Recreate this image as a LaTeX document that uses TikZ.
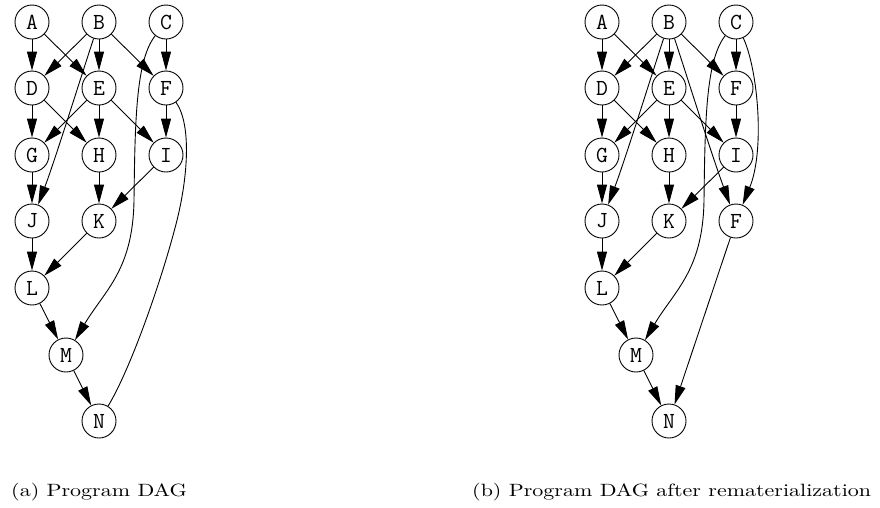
\documentclass[tikz,border=0pt]{standalone}
\usetikzlibrary{arrows.meta}
\begin{document}
\begin{tikzpicture}[x=1pt,y=-1pt,
  vtx/.style={circle,draw,line width=0.9pt,minimum size=34pt,inner sep=0pt,
    font=\fontsize{23}{23}\selectfont\ttfamily},
  arr/.style={line width=0.9pt,-{Triangle[length=19pt,width=10pt]}},
  lnk/.style={line width=0.9pt},
  captext/.style={anchor=base west,inner sep=0pt,font=\fontsize{10}{12}\selectfont}]
\useasboundingbox (0,0) rectangle (880,507);

% (a) program DAG
\begin{scope}
  \node[vtx] (A) at (32,22) {A};
  \node[vtx] (B) at (99,22) {B};
  \node[vtx] (C) at (166,22) {C};
  \node[vtx] (D) at (32,88) {D};
  \node[vtx] (E) at (99,88) {E};
  \node[vtx] (F) at (166,88) {F};
  \node[vtx] (G) at (32,155) {G};
  \node[vtx] (H) at (99,155) {H};
  \node[vtx] (I) at (166,155) {I};
  \node[vtx] (J) at (32,221) {J};
  \node[vtx] (K) at (99,221) {K};
  \node[vtx] (L) at (32,288) {L};
  \node[vtx] (M) at (66,355) {M};
  \node[vtx] (N) at (99,421) {N};

  \draw[arr] (A) -- (D);
  \draw[arr] (A) -- (E);
  \draw[arr] (B) -- (D);
  \draw[arr] (B) -- (E);
  \draw[arr] (B) -- (F);
  \draw[arr] (B) .. controls (80,80) and (55,160) .. (J);
  \draw[arr] (C) -- (F);
  \draw[arr] (C) .. controls (136,60) and (135,120) .. (134,200)
                 .. controls (133,270) and (105,290) .. (M);
  \draw[arr] (D) -- (G);
  \draw[arr] (D) -- (H);
  \draw[arr] (E) -- (G);
  \draw[arr] (E) -- (H);
  \draw[arr] (E) -- (I);
  \draw[arr] (F) -- (I);
  \draw[lnk] (F) .. controls (192,125) and (188,180) .. (175,228)
                 .. controls (160,285) and (130,370) .. (N);
  \draw[arr] (G) -- (J);
  \draw[arr] (H) -- (K);
  \draw[arr] (I) -- (K);
  \draw[arr] (J) -- (L);
  \draw[arr] (K) -- (L);
  \draw[arr] (L) -- (M);
  \draw[arr] (M) -- (N);
\end{scope}

% (b) program DAG after rematerialization
\begin{scope}[xshift=570pt]
  \node[vtx] (A2) at (32,22) {A};
  \node[vtx] (B2) at (99,22) {B};
  \node[vtx] (C2) at (166,22) {C};
  \node[vtx] (D2) at (32,88) {D};
  \node[vtx] (E2) at (99,88) {E};
  \node[vtx] (F2) at (166,88) {F};
  \node[vtx] (G2) at (32,155) {G};
  \node[vtx] (H2) at (99,155) {H};
  \node[vtx] (I2) at (166,155) {I};
  \node[vtx] (J2) at (32,221) {J};
  \node[vtx] (K2) at (99,221) {K};
  \node[vtx] (R2) at (166,221) {F};
  \node[vtx] (L2) at (32,288) {L};
  \node[vtx] (M2) at (66,355) {M};
  \node[vtx] (N2) at (99,421) {N};

  \draw[arr] (A2) -- (D2);
  \draw[arr] (A2) -- (E2);
  \draw[arr] (B2) -- (D2);
  \draw[arr] (B2) -- (E2);
  \draw[arr] (B2) -- (F2);
  \draw[arr] (B2) .. controls (80,80) and (55,160) .. (J2);
  \draw[arr] (B2) .. controls (115,70) and (140,150) .. (R2);
  \draw[arr] (C2) -- (F2);
  \draw[arr] (C2) .. controls (136,60) and (135,120) .. (134,200)
                  .. controls (133,270) and (105,290) .. (M2);
  \draw[arr] (C2) .. controls (188,70) and (195,150) .. (R2);
  \draw[arr] (D2) -- (G2);
  \draw[arr] (D2) -- (H2);
  \draw[arr] (E2) -- (G2);
  \draw[arr] (E2) -- (H2);
  \draw[arr] (E2) -- (I2);
  \draw[arr] (F2) -- (I2);
  \draw[arr] (G2) -- (J2);
  \draw[arr] (H2) -- (K2);
  \draw[arr] (I2) -- (K2);
  \draw[arr] (J2) -- (L2);
  \draw[arr] (K2) -- (L2);
  \draw[arr] (R2) -- (N2);
  \draw[arr] (L2) -- (M2);
  \draw[arr] (M2) -- (N2);
\end{scope}

\node[captext] (capa) at (11,496.5) {\scalebox{2.2}[1.78]{(a) Program DAG}};
\node[captext] (capb) at (472,496.5) {\scalebox{2.2}[1.78]{(b) Program DAG after rematerialization}};
\end{tikzpicture}
\end{document}
